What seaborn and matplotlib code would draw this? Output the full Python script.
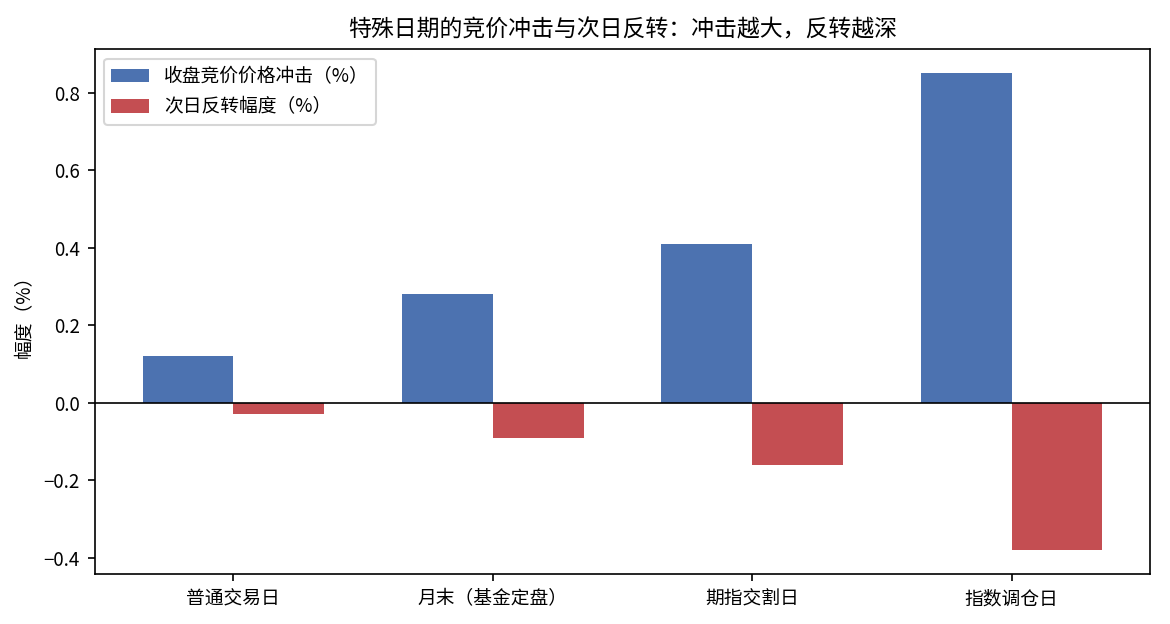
import pandas as pd
import numpy as np
import matplotlib
matplotlib.use('Agg')
import matplotlib.pyplot as plt
import seaborn as sns

plt.rcParams['font.family'] = ['Noto Sans CJK SC', 'DejaVu Sans']
plt.rcParams['axes.unicode_minus'] = True

categories = ['普通交易日', '月末（基金定盘）', '期指交割日', '指数调仓日']
impact = [0.12, 0.28, 0.41, 0.85]
reversal = [-0.03, -0.09, -0.16, -0.38]
series_names = ['收盘竞价价格冲击（%）', '次日反转幅度（%）']

df = pd.DataFrame({
    'cat': categories * 2,
    'val': impact + reversal,
    'series': [series_names[0]] * 4 + [series_names[1]] * 4,
})

fig, ax = plt.subplots(figsize=(7.8, 4.16), dpi=150)
fig.subplots_adjust(left=0.0808, right=0.9833, top=0.921, bottom=0.0805)

sns.barplot(data=df, x='cat', y='val', hue='series', order=categories,
            hue_order=series_names, palette=['#4c72b0', '#c44e52'],
            saturation=1, width=0.7, errorbar=None, edgecolor='none', ax=ax)

# same padding matplotlib would give plain bars
ax.set_xlim(-0.535, 3.535)
ax.axhline(0, color='black', linewidth=0.8)
ax.set_title('特殊日期的竞价冲击与次日反转：冲击越大，反转越深', fontsize=11)
ax.set_xlabel('')
ax.set_ylabel('幅度（%）', fontsize=9)
ax.tick_params(labelsize=9)
ax.legend(title=None, loc='upper left', fontsize=9)

fig.savefig('out.png', dpi=150)
